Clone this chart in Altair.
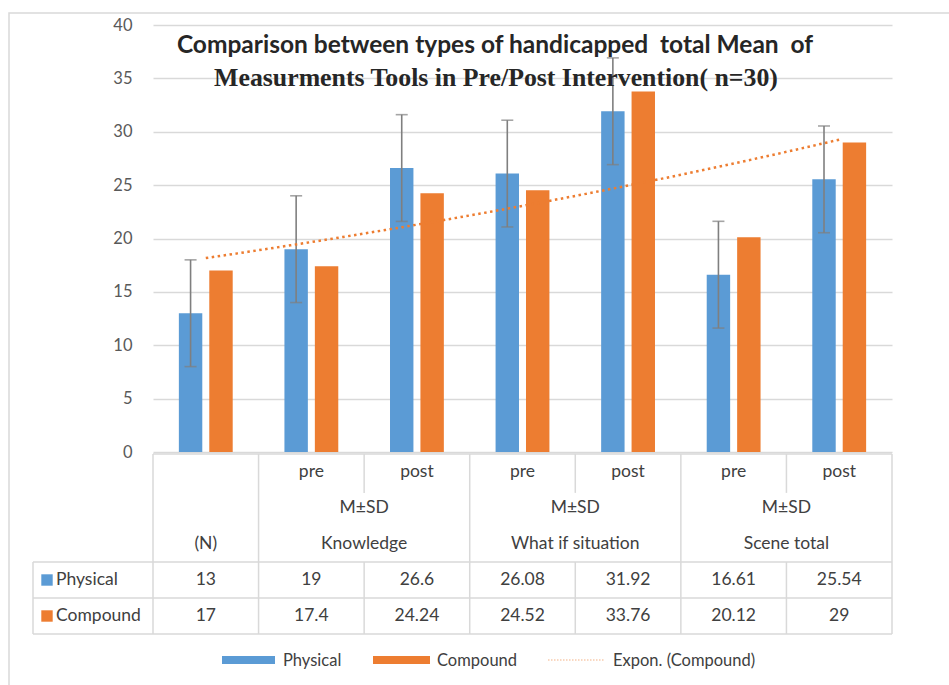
import altair as alt
import pandas as pd

# ---- data ----
cat_ids = ["N", "K_pre", "K_post", "W_pre", "W_post", "S_pre", "S_post"]
tier1 = ["", "pre", "post", "pre", "post", "pre", "post"]
groups = ["(N)", "Knowledge", "What if situation", "Scene total"]
group_span = [[1, 1], [2, 3], [4, 5], [6, 7]]
group_has_msd = [False, True, True, True]
physical = [13, 19, 26.6, 26.08, 31.92, 16.61, 25.54]
compound = [17, 17.4, 24.24, 24.52, 33.76, 20.12, 29]
physical_sd = [5, 5, 5, 5, 5, 5, 5]
series = ["Physical", "Compound"]
colors = ["#5b9bd5", "#ed7d31"]
title1 = "Comparison between types of handicapped\u00a0 total Mean\u00a0 of"
title2 = "Measurments Tools in Pre/Post Intervention( n=30)"

W, H = 739, 609
PLOT_H = 427

n = len(cat_ids)
rows = []
for i, c in enumerate(cat_ids):
    rows.append({"cat": c, "k": i + 1, "series": "Physical", "v": physical[i], "sd": physical_sd[i]})
    rows.append({"cat": c, "k": i + 1, "series": "Compound", "v": compound[i], "sd": 0})
df = pd.DataFrame(rows)
df_phys = df[df.series == "Physical"]
df_comp = df[df.series == "Compound"]

FONT = "Lato"
TXT = "#404040"
LINE = "#d9d9d9"
TFS = 17.5

xband = alt.Scale(domain=cat_ids, paddingInner=0.49, paddingOuter=0.245)
xoff = alt.Scale(domain=series, paddingInner=0.23, paddingOuter=0)
ybar = alt.Scale(domain=[0, 40], range=[PLOT_H, 0], nice=False)
xq = alt.Scale(domain=[0.5, n + 0.5], nice=False, zero=False)
ytab = alt.Scale(domain=[0, 5], range=[PLOT_H + 2, H], nice=False, zero=False)
cscale = alt.Scale(domain=series, range=colors)

# ---- bars ----
bars = alt.Chart(df).mark_bar().encode(
    x=alt.X("cat:N", scale=xband, axis=None, sort=cat_ids),
    xOffset=alt.XOffset("series:N", scale=xoff, sort=series),
    y=alt.Y("v:Q", scale=ybar,
            axis=alt.Axis(values=[0, 5, 10, 15, 20, 25, 30, 35, 40], domain=False, ticks=False,
                          labelPadding=21, labelFont=FONT, labelFontSize=16.5, labelColor="#595959",
                          gridColor=LINE, gridWidth=1.5, title=None)),
    color=alt.Color("series:N", scale=cscale, legend=None),
)

err_base = alt.Chart(df_phys).transform_calculate(
    lo="datum.v - datum.sd", hi="datum.v + datum.sd"
)
err = err_base.mark_rule(color="#7f7f7f", strokeWidth=1.6).encode(
    x=alt.X("cat:N", scale=xband, axis=None, sort=cat_ids),
    xOffset=alt.XOffset("series:N", scale=xoff, sort=series),
    y=alt.Y("lo:Q", scale=ybar, axis=None),
    y2="hi:Q",
)
cap_lo = err_base.mark_tick(color="#7f7f7f", size=12, thickness=1.6).encode(
    x=alt.X("cat:N", scale=xband, axis=None, sort=cat_ids),
    xOffset=alt.XOffset("series:N", scale=xoff, sort=series),
    y=alt.Y("lo:Q", scale=ybar, axis=None),
)
cap_hi = err_base.mark_tick(color="#7f7f7f", size=12, thickness=1.6).encode(
    x=alt.X("cat:N", scale=xband, axis=None, sort=cat_ids),
    xOffset=alt.XOffset("series:N", scale=xoff, sort=series),
    y=alt.Y("hi:Q", scale=ybar, axis=None),
)

# exponential trendline fitted in log space (as a spreadsheet does)
trend = alt.Chart(df_comp).transform_calculate(
    lnv="log(datum.v)"
).transform_regression(
    "k", "lnv", method="linear", params=True
).transform_calculate(
    kk="sequence(1, %d.001, 0.1)" % n
).transform_flatten(
    ["kk"]
).transform_calculate(
    fit="exp(datum.coef[0] + datum.coef[1] * datum.kk)"
).mark_line(color="#ed7d31", strokeWidth=2.5, strokeDash=[2.5, 3.5]).encode(
    x=alt.X("kk:Q", scale=xq, axis=None),
    y=alt.Y("fit:Q", scale=ybar, axis=None),
)

# ---- table ----
tab_rows = []
for i in range(n):
    if tier1[i]:
        tab_rows.append({"x": i + 1, "r": 0.5, "t": tier1[i]})
for g, (a, b), m in zip(groups, group_span, group_has_msd):
    cx = (a + b) / 2
    if m:
        tab_rows.append({"x": cx, "r": 1.5, "t": "M±SD"})
    tab_rows.append({"x": cx, "r": 2.5, "t": g})
for i in range(n):
    tab_rows.append({"x": i + 1, "r": 3.5, "t": str(physical[i])})
    tab_rows.append({"x": i + 1, "r": 4.5, "t": str(compound[i])})
tab_df = pd.DataFrame(tab_rows)

tab_text = alt.Chart(tab_df).mark_text(font=FONT, fontSize=TFS, color=TXT).encode(
    x=alt.X("x:Q", scale=xq, axis=None),
    y=alt.Y("r:Q", scale=ytab, axis=None),
    text="t:N",
)

hl = pd.DataFrame([
    {"r": 0, "lab": False},
    {"r": 3, "lab": True},
    {"r": 4, "lab": True},
    {"r": 5, "lab": True},
])
hlines = alt.Chart(hl).mark_rule(color=LINE, strokeWidth=1.5).encode(
    x=alt.value(0), x2=alt.value(W),
    y=alt.Y("r:Q", scale=ytab, axis=None),
)
hlines_lab = alt.Chart(hl[hl.lab]).mark_rule(color=LINE, strokeWidth=1.5).encode(
    x=alt.value(-120), x2=alt.value(0),
    y=alt.Y("r:Q", scale=ytab, axis=None),
)
vl = []
group_edges = sorted({a - 0.5 for a, b in group_span} | {n + 0.5})
for e in group_edges:
    vl.append({"x": e, "r0": 0, "r1": 5})
for a, b in group_span:
    if b > a:
        vl.append({"x": a + 0.5, "r0": 0, "r1": 1.08})
        vl.append({"x": a + 0.5, "r0": 3, "r1": 5})
vlines = alt.Chart(pd.DataFrame(vl)).mark_rule(color=LINE, strokeWidth=1.5).encode(
    x=alt.X("x:Q", scale=xq, axis=None),
    y=alt.Y("r0:Q", scale=ytab, axis=None),
    y2="r1:Q",
)
vline_lab = alt.Chart(pd.DataFrame([{"r0": 3, "r1": 5}])).mark_rule(color=LINE, strokeWidth=1.5).encode(
    x=alt.value(-120),
    y=alt.Y("r0:Q", scale=ytab, axis=None),
    y2="r1:Q",
)

lab_df = pd.DataFrame({"series": series, "r": [3.5, 4.5]})
lab_sq = alt.Chart(lab_df).mark_square(size=130, opacity=1).encode(
    x=alt.value(-106),
    y=alt.Y("r:Q", scale=ytab, axis=None),
    color=alt.Color("series:N", scale=cscale, legend=None),
)
lab_txt = alt.Chart(lab_df).mark_text(font=FONT, fontSize=TFS, color=TXT, align="left").encode(
    x=alt.value(-97),
    y=alt.Y("r:Q", scale=ytab, axis=None),
    text="series:N",
)

# ---- legend (custom, at bottom) ----
LY = 635
LFS = 16.5
leg_phys = alt.Chart(pd.DataFrame([{"s": "Physical"}])).mark_rect(color=colors[0]).encode(
    x=alt.value(69), x2=alt.value(122), y=alt.value(LY - 4), y2=alt.value(LY + 4))
leg_comp = alt.Chart(pd.DataFrame([{"s": "Compound"}])).mark_rect(color=colors[1]).encode(
    x=alt.value(220), x2=alt.value(277), y=alt.value(LY - 4), y2=alt.value(LY + 4))
leg_trend = alt.Chart(pd.DataFrame([{"s": "Expon. (Compound)"}])).mark_rule(
    color="#f4b183", strokeWidth=1.2, strokeDash=[1.5, 1.5]).encode(
    x=alt.value(395), x2=alt.value(451), y=alt.value(LY))
leg_txt_df = pd.DataFrame({"s": ["Physical", "Compound", "Expon. (Compound)"]})
leg_t1 = alt.Chart(leg_txt_df[leg_txt_df.s == "Physical"]).mark_text(
    font=FONT, fontSize=LFS, color=TXT, align="left", baseline="middle").encode(
    x=alt.value(130), y=alt.value(LY + 1), text="s:N")
leg_t2 = alt.Chart(leg_txt_df[leg_txt_df.s == "Compound"]).mark_text(
    font=FONT, fontSize=LFS, color=TXT, align="left", baseline="middle").encode(
    x=alt.value(284), y=alt.value(LY + 1), text="s:N")
leg_t3 = alt.Chart(leg_txt_df[leg_txt_df.s == "Expon. (Compound)"]).mark_text(
    font=FONT, fontSize=LFS, color=TXT, align="left", baseline="middle").encode(
    x=alt.value(460), y=alt.value(LY + 1), text="s:N")

# ---- title (overlapping plot, as in the original) ----
t1 = alt.Chart(pd.DataFrame([{"t": title1}])).mark_text(
    font=FONT, fontSize=24.5, fontWeight="bold", color="#262626", baseline="middle").encode(
    x=alt.value(342), y=alt.value(21), text="t:N")
t2 = alt.Chart(pd.DataFrame([{"t": title2}])).mark_text(
    font="Liberation Serif", fontSize=25.8, fontWeight="bold", color="#262626", baseline="middle").encode(
    x=alt.value(343), y=alt.value(53), text="t:N")

# ---- outer frame ----
frame = alt.Chart(pd.DataFrame([{"f": 1}])).mark_rect(
    fill=None, stroke=LINE, strokeWidth=1.5).encode(
    x=alt.value(-144), x2=alt.value(900), y=alt.value(-12), y2=alt.value(700))

chart = alt.layer(
    frame, bars, err, cap_lo, cap_hi, trend,
    hlines, hlines_lab, vlines, vline_lab, tab_text, lab_sq, lab_txt,
    leg_phys, leg_comp, leg_trend, leg_t1, leg_t2, leg_t3, t1, t2,
).resolve_scale(
    x="independent", y="independent", color="shared", xOffset="independent"
).properties(
    width=W, height=H, autosize="none",
    padding={"left": 153, "top": 25, "right": 57, "bottom": 51},
    background="white",
).configure_view(stroke=None)

chart.save("out.html", embed_options={"renderer": "svg", "actions": False})
